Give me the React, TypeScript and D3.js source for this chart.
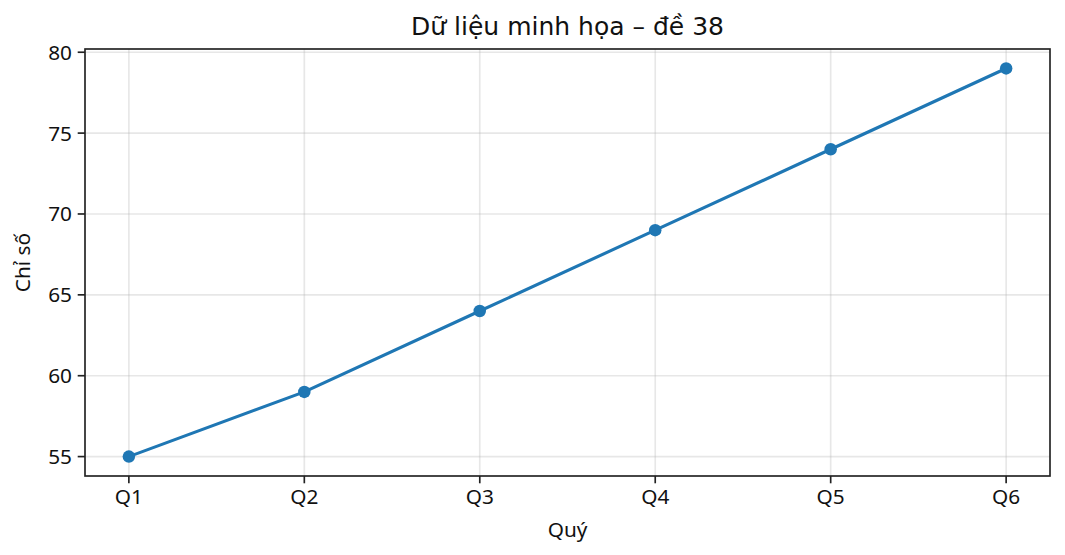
import React from "react";
import * as d3 from "d3";

const categories = ["Q1", "Q2", "Q3", "Q4", "Q5", "Q6"];
const values = [55, 59, 64, 69, 74, 79];
const yTicks = [55, 60, 65, 70, 75, 80];
const title = "Dữ liệu minh họa – đề 38";
const xLabel = "Quý";
const yLabel = "Chỉ số";

const W = 1065, H = 555;
const L = 85, R = 1050, T = 49, B = 476;
const FONT = "'Noto Sans', 'DejaVu Sans', sans-serif";
const TITLE_FONT = "'DejaVu Sans', sans-serif";
const COLOR = "#1f77b4";

export default function App() {
  const x = d3.scaleLinear().domain([-0.25, categories.length - 1 + 0.25]).range([L, R]);
  const ymin = d3.min(values)!, ymax = d3.max(values)!;
  const pad = (ymax - ymin) * 0.05;
  const y = d3.scaleLinear().domain([ymin - pad, ymax + pad]).range([B, T]);
  const line = d3.line<number>().x((_, i) => x(i)).y((d) => y(d));

  return (
    <svg width={W} height={H} style={{ position: "absolute", left: 0, top: 0, background: "#fff" }} fontFamily={FONT}>
      <rect x={0} y={0} width={W} height={H} fill="#fff" />
      {/* grid */}
      {categories.map((c, i) => (
        <line key={"gx" + c} x1={x(i)} x2={x(i)} y1={T} y2={B} stroke="#b0b0b0" strokeOpacity={0.3} strokeWidth={1.67} />
      ))}
      {yTicks.map((t) => (
        <line key={"gy" + t} x1={L} x2={R} y1={y(t)} y2={y(t)} stroke="#b0b0b0" strokeOpacity={0.3} strokeWidth={1.67} />
      ))}
      {/* line */}
      <path d={line(values)!} fill="none" stroke={COLOR} strokeWidth={3.1} strokeLinejoin="round" strokeLinecap="square" />
      {values.map((v, i) => (
        <circle key={i} cx={x(i)} cy={y(v)} r={6.25} fill={COLOR} />
      ))}
      {/* spines */}
      <rect x={L} y={T} width={R - L} height={B - T} fill="none" stroke="#222" strokeWidth={1.67} />
      {/* x ticks */}
      {categories.map((c, i) => (
        <g key={"xt" + c}>
          <line x1={x(i)} x2={x(i)} y1={B} y2={B + 7.3} stroke="#222" strokeWidth={1.67} />
          <text x={x(i)} y={B + 12} dy="0.76em" textAnchor="middle" fontSize={20.8} fill="#111">{c}</text>
        </g>
      ))}
      {/* y ticks */}
      {yTicks.map((t) => (
        <g key={"yt" + t}>
          <line x1={L} x2={L - 7.3} y1={y(t)} y2={y(t)} stroke="#222" strokeWidth={1.67} />
          <text x={L - 13} y={y(t)} dy="0.36em" textAnchor="end" fontSize={20.8} fill="#111">{t}</text>
        </g>
      ))}
      <text x={(L + R) / 2} y={35} textAnchor="middle" fontSize={25} fontFamily={TITLE_FONT} fill="#111">{title}</text>
      <text x={(L + R) / 2} y={537} textAnchor="middle" fontSize={20.8} fill="#111">{xLabel}</text>
      <text transform={`translate(30,${(T + B) / 2}) rotate(-90)`} textAnchor="middle" fontSize={20.8} fill="#111">{yLabel}</text>
    </svg>
  );
}
